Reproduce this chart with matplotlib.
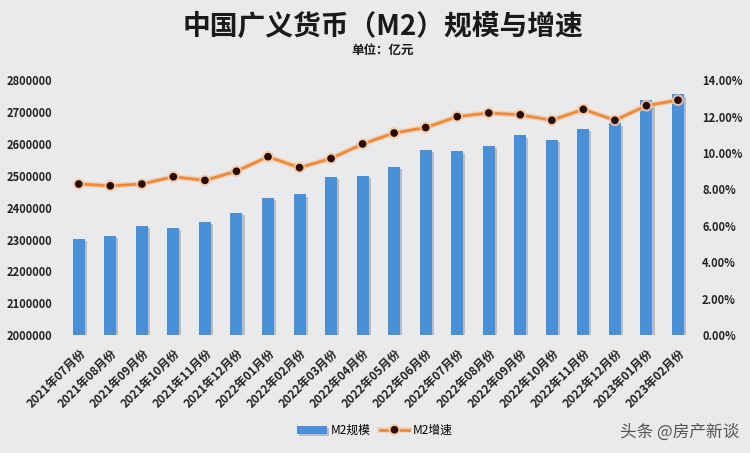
import numpy as np
import matplotlib.pyplot as plt
import matplotlib.patheffects as pe
import matplotlib.transforms as mtrans
from matplotlib.ticker import FuncFormatter

plt.rcParams['font.family'] = ['Noto Sans CJK SC', 'DejaVu Sans']

# data (亿元 / %)
months = ['2021年07月份', '2021年08月份', '2021年09月份', '2021年10月份', '2021年11月份',
          '2021年12月份', '2022年01月份', '2022年02月份', '2022年03月份', '2022年04月份',
          '2022年05月份', '2022年06月份', '2022年07月份', '2022年08月份', '2022年09月份',
          '2022年10月份', '2022年11月份', '2022年12月份', '2023年01月份', '2023年02月份']
m2_scale = [2302200, 2312300, 2342800, 2336200, 2356400, 2382900, 2431000, 2441500,
            2497700, 2499700, 2527000, 2581500, 2578100, 2595100, 2626700, 2612900,
            2647100, 2664300, 2738100, 2755300]
m2_growth = [8.3, 8.2, 8.3, 8.7, 8.5, 9.0, 9.8, 9.2, 9.7, 10.5,
             11.1, 11.4, 12.0, 12.2, 12.1, 11.8, 12.4, 11.8, 12.6, 12.9]

bg = '#e9eaec'
bar_color = '#4a90d9'
line_color = '#ec8a3c'

fig = plt.figure(figsize=(7.5, 4.53), dpi=100, facecolor=bg)
ax = fig.add_axes([0.084, 0.26, 0.841, 0.563])
ax.set_facecolor(bg)

x = np.arange(len(months))
bars = ax.bar(x, m2_scale, width=0.38, color=bar_color, label='M2规模', zorder=2)
for b in bars:
    b.set_path_effects([pe.SimplePatchShadow(offset=(1.5, -1.5), shadow_rgbFace='#8a8f96', alpha=0.5),
                        pe.Normal()])
ax.set_ylim(2000000, 2800000)
ax.set_yticks(np.arange(2000000, 2800001, 100000))
ax.yaxis.set_major_formatter(FuncFormatter(lambda v, p: f'{int(v)}'))
ax.set_xlim(-0.5, len(months) - 0.5)
ax.set_xticks(x)
ax.set_xticklabels(months, rotation=45, ha='right', rotation_mode='anchor',
                   fontsize=8.5, fontweight='bold', color='#222222')
shift = mtrans.ScaledTranslation(8 / 100, 0, fig.dpi_scale_trans)
for lbl in ax.get_xticklabels():
    lbl.set_transform(lbl.get_transform() + shift)
ax.tick_params(axis='y', labelsize=8, length=0, pad=8, labelcolor='#222222')
ax.tick_params(axis='x', length=0, pad=8)
for lbl in ax.get_yticklabels():
    lbl.set_fontweight('bold')

ax2 = ax.twinx()
line, = ax2.plot(x, m2_growth, color=line_color, lw=2, marker='o', markersize=4.5,
                 markerfacecolor='#2a0a05', markeredgecolor='#2a0a05', label='M2增速', zorder=3)
line.set_path_effects([pe.Stroke(linewidth=4, foreground='#f6c9a4', alpha=0.8), pe.Normal()])
ax2.set_ylim(0, 14)
ax2.set_yticks(np.arange(0, 14.01, 2))
ax2.yaxis.set_major_formatter(FuncFormatter(lambda v, p: f'{v:.2f}%'))
ax2.tick_params(axis='y', labelsize=8, length=0, pad=6, labelcolor='#222222')
for lbl in ax2.get_yticklabels():
    lbl.set_fontweight('bold')

for a in (ax, ax2):
    for s in a.spines.values():
        s.set_visible(False)

fig.text(0.511, 0.94, '中国广义货币（M2）规模与增速', ha='center', va='center',
         fontsize=20, fontweight='bold', color='#1a1a1a')
fig.text(0.51, 0.888, '单位：亿元', ha='center', va='center',
         fontsize=9, fontweight='bold', color='#1a1a1a')

handles = [bars, line]
fig.legend(handles, ['M2规模', 'M2增速'], loc='center', bbox_to_anchor=(0.5, 0.05),
           ncol=2, frameon=False, fontsize=8.5, handlelength=2.5, columnspacing=0.8,
           handletextpad=0.3)

fig.text(0.985, 0.047, '头条 @房产新谈', ha='right', va='center', fontsize=12,
         color='#555555')

fig.savefig('out.png', dpi=100, facecolor=bg)
